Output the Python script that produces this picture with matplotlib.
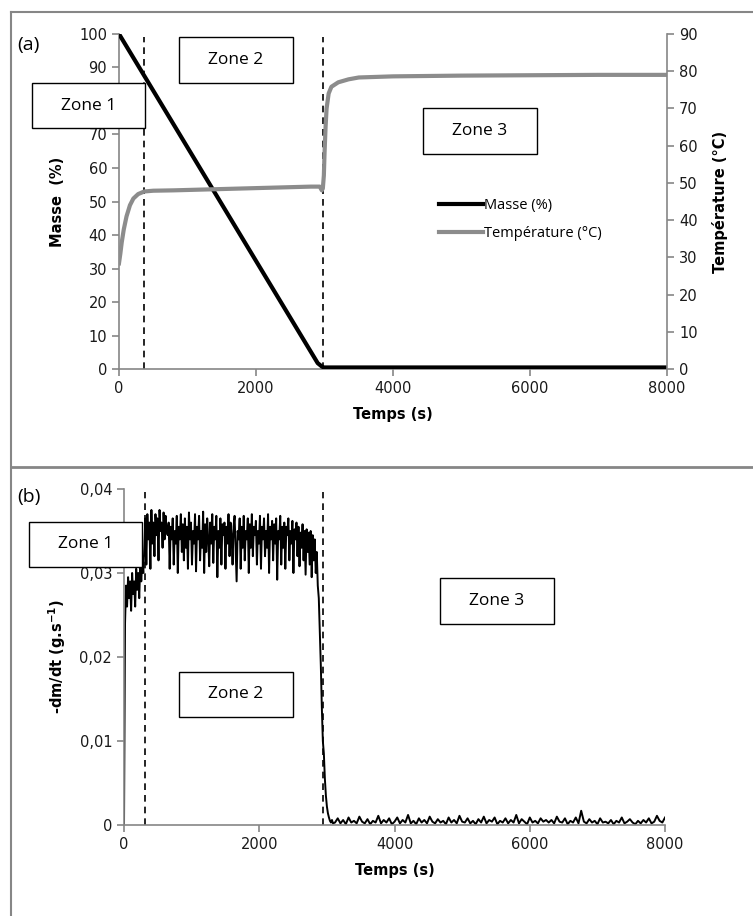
import numpy as np
import matplotlib
matplotlib.use("Agg")
import matplotlib.pyplot as plt
from matplotlib.lines import Line2D

# (a) mass and temperature
masse_t = [0, 2900, 2960, 2990, 3050, 8000]
masse_v = [100, 1.8, 0.8, 0.5, 0.5, 0.5]

temp_t = [0, 20, 40, 70, 110, 160, 210, 280, 370, 500, 800, 1200, 1600, 2000, 2400,
          2800, 2930, 2960, 2975, 2990, 3000, 3015, 3030, 3060, 3100, 3200, 3350,
          3500, 4000, 5000, 6000, 7000, 8000]
temp_v = [28.4, 31, 34, 37.5, 41, 44, 45.8, 47, 47.7, 47.9, 48, 48.2, 48.4, 48.6, 48.8,
          49, 49, 48, 48.5, 52, 58, 65, 70, 74, 75.8, 77, 77.8, 78.3, 78.6, 78.8, 78.9,
          79, 79]

# (b) -dm/dt, in 1e-3 g/s
step_fast = 15   # s, from t = 0
rate_fast = [
    0, 24, 28.5, 26, 29.5, 27, 29, 25.5, 30, 27.5, 29, 26, 30.5, 28, 30, 27, 31, 29, 31.5, 30,
    33, 36.5, 31, 37, 34, 36, 30.5, 37.5, 33.5, 36,
    32, 37, 34.5, 36.5, 31.5, 37.5, 35, 36, 33, 37.2,
    34, 36.8, 35, 34.5, 36, 30.5, 35.5, 34, 36.5, 31,
    35, 33.5, 36.8, 30, 35.5, 34, 37, 32.5, 35.8, 31.5,
    36.5, 33, 35.5, 30.5, 37.2, 34, 36, 31, 35, 33.5,
    37, 30.2, 35.5, 34, 36.8, 31.5, 35, 33, 37.3, 30,
    35.8, 32.5, 36.5, 34, 30.8, 36, 33.5, 37, 31.2, 35.5,
    34, 36.8, 29.5, 35, 33, 36.5, 31, 35.8, 34.5, 36,
    30.5, 35.5, 33.5, 37, 32, 36, 34.5, 31, 35.5, 36.8,
    33, 29, 35, 34, 36.5, 30.5, 35.5, 33, 36.8, 31.5,
    35, 34, 36.5, 30, 35.8, 33, 37, 32, 35.5, 34.5,
    36.2, 31, 35, 33.5, 36.8, 30.5, 35.5, 34, 36.5, 32,
    35, 33, 37, 30, 35.5, 34, 36.2, 31.5, 35.8, 33.5,
    36.5, 29.2, 35, 34, 36.8, 31, 35.5, 33, 36, 30.5,
    35.5, 34.5, 36.5, 31.5, 35, 33.5, 36.2, 30, 35.2, 34,
    36, 32, 35.5, 30.8, 34.8, 33, 35.8, 31.5, 35, 29.8,
    35.2, 32.5, 34.8, 31, 35, 29.5, 34.5, 31.5, 34, 30,
    32.5,
    28.5, 27, 23, 19, 14, 10, 8.5, 5.5, 3.5, 2.2, 1.4, 0.9, 0.5, 0.3, 0.6, 0.2,
]
start_slow = 3120
step_slow = 40
rate_slow = [
    0.3, 0.8, 0.2, 0.6, 0.1, 0.9, 0.3, 0.5, 0.2, 1.0,
    0.4, 0.2, 0.7, 0.1, 0.5, 0.3, 1.1, 0.2, 0.6, 0.3,
    0.8, 0.1, 0.4, 0.9, 0.2, 0.6, 0.3, 1.2, 0.2, 0.5,
    0.1, 0.8, 0.3, 0.6, 0.2, 1.0, 0.4, 0.2, 0.7, 0.3,
    0.5, 0.1, 0.9, 0.3, 0.6, 0.2, 1.1, 0.4, 0.3, 0.8,
    0.2, 0.5, 0.1, 0.7, 0.3, 1.0, 0.2, 0.6, 0.4, 0.9,
    0.1, 0.5, 0.3, 0.8, 0.2, 0.6, 0.3, 1.2, 0.2, 0.7,
    0.4, 0.1, 0.9, 0.3, 0.5, 0.2, 0.8, 0.4, 0.6, 0.3,
    0.6, 0.2, 1.0, 0.4, 0.3, 0.8, 0.1, 0.5, 0.3, 0.9,
    0.2, 1.7, 0.4, 0.2, 0.7, 0.3, 0.5, 0.1, 0.8, 0.3,
    0.4, 0.2, 0.6, 0.1, 0.5, 0.3, 0.9, 0.2, 0.4, 0.7,
    0.3, 0.1, 0.5, 0.2, 0.6, 0.3, 0.8, 0.2, 0.4, 1.1,
    0.5, 0.3, 0.9,
]

zone_lines_a = [365, 2980]
zone_lines_b = [310, 2945]

GRAY = '#868686'
TXT = '#1a1a1a'
box_font = ['Open Sans', 'DejaVu Sans']


def style_axis(ax):
    for s in ['top', 'right']:
        ax.spines[s].set_visible(False)
    for s in ['left', 'bottom']:
        ax.spines[s].set_color(GRAY)
        ax.spines[s].set_linewidth(1.2)
    ax.tick_params(colors=GRAY, labelcolor=TXT, labelsize=10.5, length=5, width=1.2,
                   direction='out')


def zone_box(fig, x0, y0, x1, y1, label):
    # pixel coords (top-left origin) -> figure fraction
    W, H = 753, 916
    rect = plt.Rectangle((x0 / W, 1 - y1 / H), (x1 - x0) / W, (y1 - y0) / H,
                         transform=fig.transFigure, facecolor='white', edgecolor='black',
                         linewidth=1.0, zorder=10)
    fig.add_artist(rect)
    fig.text((x0 + x1) / 2 / W, 1 - (y0 + y1) / 2 / H, label, ha='center', va='center',
             fontsize=12.5, family=box_font, zorder=11)


fig = plt.figure(figsize=(7.53, 9.16), dpi=100)

# panel frames
fig.add_artist(Line2D([10.5 / 753, 10.5 / 753], [0, 1 - 12 / 916], transform=fig.transFigure,
                      color=GRAY, lw=1.5))
fig.add_artist(Line2D([10.5 / 753, 1], [1 - 12 / 916, 1 - 12 / 916], transform=fig.transFigure,
                      color=GRAY, lw=1.5))
fig.add_artist(Line2D([10.5 / 753, 1], [1 - 467 / 916, 1 - 467 / 916], transform=fig.transFigure,
                      color=GRAY, lw=2))

# ---- (a)
ax1 = fig.add_axes([0.158, 0.597, 0.728, 0.366])
ax1.plot(masse_t, masse_v, color='black', lw=3, label='Masse (%)', zorder=3)
ax1.set_xlim(0, 8000)
ax1.set_ylim(0, 100)
ax1.set_xticks(np.arange(0, 8001, 2000))
ax1.set_yticks(np.arange(0, 101, 10))
style_axis(ax1)
for x in zone_lines_a:
    ax1.axvline(x, ymin=0, ymax=0.99, color='black', ls=(0, (4, 3)), lw=1.2)
ax1.set_xlabel('Temps (s)', fontsize=10.5, fontweight='bold', labelpad=8)
ax1.set_ylabel('Masse  (%)', fontsize=10.5, fontweight='bold', labelpad=10)

ax1r = ax1.twinx()
ax1r.plot(temp_t, temp_v, color='#8c8c8c', lw=3, label='Température (°C)', zorder=2)
ax1r.set_ylim(0, 90)
ax1r.set_yticks(np.arange(0, 91, 10))
for s in ['top', 'left', 'bottom']:
    ax1r.spines[s].set_visible(False)
ax1r.spines['right'].set_color(GRAY)
ax1r.spines['right'].set_linewidth(1.2)
ax1r.tick_params(colors=GRAY, labelcolor=TXT, labelsize=10.5, length=5, width=1.2)
ax1r.set_ylabel('Température (°C)', fontsize=10.5, fontweight='bold', labelpad=10)

handles = [Line2D([], [], color='black', lw=3), Line2D([], [], color='#8c8c8c', lw=3)]
leg = ax1r.legend(handles, ['Masse (%)', 'Température (°C)'], frameon=False,
                  loc='upper left', bbox_to_anchor=(0.56, 0.55), handlelength=3.0,
                  handletextpad=0.1, labelspacing=0.9, prop={'family': box_font, 'size': 10.5})

fig.text(17 / 753, 1 - 45 / 916, '(a)', fontsize=14, family=box_font, va='center')

# ---- (b)
t_fast = np.arange(len(rate_fast)) * step_fast
t_slow = start_slow + np.arange(len(rate_slow)) * step_slow
t_b = np.concatenate([t_fast, t_slow])
r_b = np.concatenate([rate_fast, rate_slow]) / 1000.0

ax2 = fig.add_axes([0.1647, 0.0993, 0.7185, 0.3669])
ax2.plot(t_b, r_b, color='black', lw=1.4)
ax2.set_xlim(0, 8000)
ax2.set_ylim(0, 0.04)
ax2.set_xticks(np.arange(0, 8001, 2000))
ax2.set_yticks([0, 0.01, 0.02, 0.03, 0.04])
ax2.set_yticklabels(['0', '0,01', '0,02', '0,03', '0,04'])
style_axis(ax2)
for x in zone_lines_b:
    ax2.axvline(x, ymin=0, ymax=0.99, color='black', ls=(0, (4, 3)), lw=1.2)
ax2.set_xlabel('Temps (s)', fontsize=10.5, fontweight='bold', labelpad=8)
ax2.set_ylabel(r'-dm/dt (g.s$^{\mathbf{-1}}$)', fontsize=10.5, fontweight='bold', labelpad=8)

fig.text(17 / 753, 1 - 497 / 916, '(b)', fontsize=14, family=box_font, va='center')

# zone labels
zone_box(fig, 32, 83, 145, 128, 'Zone 1')
zone_box(fig, 179, 37, 293, 83, 'Zone 2')
zone_box(fig, 423, 108, 537, 154, 'Zone 3')
zone_box(fig, 29, 522, 142, 567, 'Zone 1')
zone_box(fig, 179, 672, 293, 717, 'Zone 2')
zone_box(fig, 440, 578, 554, 624, 'Zone 3')

fig.savefig('out.png', dpi=100)
